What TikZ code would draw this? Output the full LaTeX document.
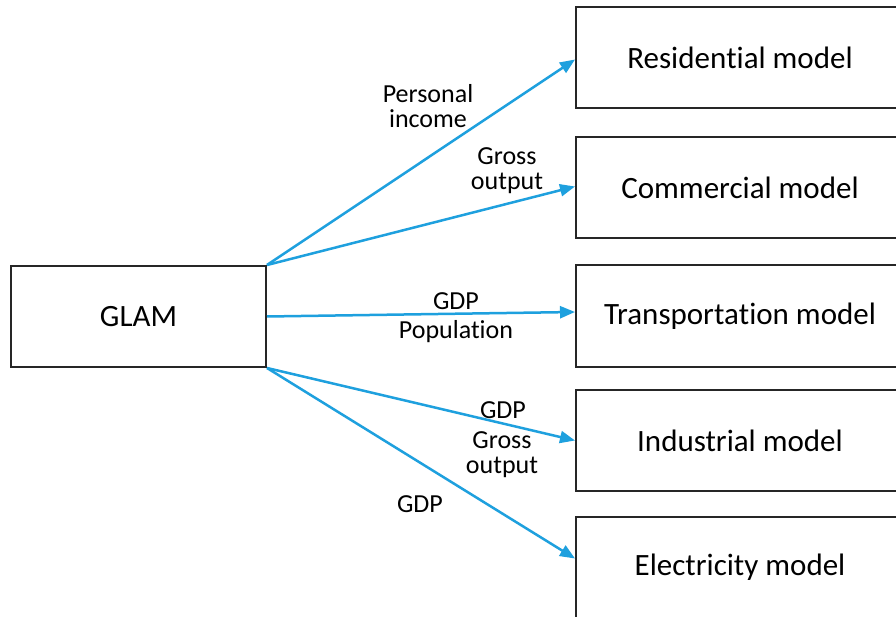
\documentclass[tikz,border=0pt]{standalone}
\usepackage{fontspec}
\setmainfont[Ligatures=CommonOff]{Carlito}
\usetikzlibrary{arrows.meta}
\definecolor{arrowblue}{RGB}{30,160,222}
\newcommand{\nolig}{\kern0pt }
\tikzset{
  model/.style={draw=black!85, line width=2pt, fill=white, minimum width=328pt, minimum height=101pt, inner sep=0pt, font=\fontsize{31}{34}\selectfont},
  glambox/.style={draw=black!85, line width=2pt, fill=white, minimum width=255pt, minimum height=101pt, inner sep=0pt, font=\fontsize{31}{34}\selectfont},
  flow/.style={draw=arrowblue, line width=2.5pt, -{Triangle[length=15pt,width=12pt]}},
  lbl/.style={font=\fontsize{26}{25}\selectfont, align=center, inner sep=0pt, text=black}
}
\begin{document}
\begin{tikzpicture}[x=1pt,y=-1pt]
\useasboundingbox (0,0) rectangle (896,617);
\clip (0,0) rectangle (896,617);
\fill[white] (0,0) rectangle (896,617);
\node[glambox] (glam) at (138.5,316.5) {GLAM};
\node[model] (res) at (740,57.5) {Residen\nolig tial model};
\node[model] (com) at (740,187.5) {Commercial model};
\node[model] (tra) at (740,316) {Transporta\nolig tion model};
\node[model] (ind) at (740,440.5) {Industrial model};
\node[model] (ele) at (740,567.5) {Electricity model};
\draw[flow] (glam.north east) -- ([yshift=-2pt]res.west);
\draw[flow] (glam.north east) -- ([yshift=1pt]com.west);
\draw[flow] (glam.east) -- ([yshift=4pt]tra.west);
\draw[flow] (glam.south east) -- (ind.west);
\draw[flow] (glam.south east) -- ([yshift=9pt]ele.west);
\node[lbl] (l1) at (428,106) {Personal\\income};
\node[lbl] (l2) at (507,171) {Gross\\output};
\node[lbl] (l3) at (456,301) {GDP};
\node[lbl] (l4) at (456,332) {Population};
\node[lbl] (l5) at (503,410) {GDP};
\node[lbl] (l6) at (502,455) {Gross\\output};
\node[lbl] (l7) at (420,504) {GDP};
\end{tikzpicture}
\end{document}
